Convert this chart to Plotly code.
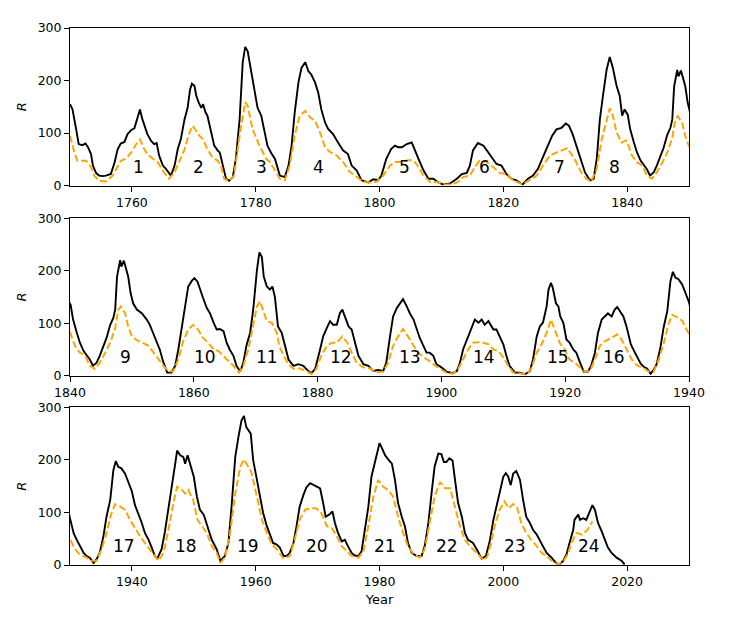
"""
Sunspot number R: revised (black) and original (orange, dashed) series, split over three panels
"""
import plotly.graph_objects as go
from plotly.subplots import make_subplots

# revised sunspot number
years_new = [
    1750.0, 1750.4, 1751.0, 1751.4, 1752.0, 1752.5, 1752.9, 1753.4, 1753.7, 1754.2,
    1754.7, 1755.3, 1755.8, 1756.6, 1757.2, 1757.7, 1758.2, 1758.8, 1759.3, 1759.9,
    1760.4, 1760.8, 1761.3, 1761.7, 1762.2, 1762.5, 1763.1, 1763.6, 1764.0, 1764.4,
    1765.0, 1765.5, 1766.3, 1766.9, 1767.4, 1767.9, 1768.5, 1769.0, 1769.4, 1769.7,
    1770.1, 1770.4, 1770.8, 1771.2, 1771.5, 1771.9, 1772.2, 1772.8, 1773.3, 1773.9,
    1774.2, 1774.7, 1775.2, 1775.7, 1776.3, 1776.8, 1777.4, 1777.9, 1778.3, 1778.7,
    1779.2, 1779.8, 1780.3, 1780.9, 1781.4, 1781.9, 1782.5, 1783.1, 1783.9, 1784.7,
    1785.3, 1785.8, 1786.3, 1786.9, 1787.4, 1788.0, 1788.5, 1789.0, 1789.6, 1790.1,
    1790.6, 1791.2, 1791.7, 1792.5, 1793.3, 1794.1, 1794.9, 1795.5, 1796.3, 1797.1,
    1798.2, 1799.0, 1799.8, 1800.3, 1801.1, 1801.9, 1802.5, 1803.0, 1803.6, 1804.4,
    1805.2, 1805.7, 1806.3, 1807.1, 1807.9, 1808.7, 1809.5, 1810.3, 1811.4, 1812.5,
    1813.3, 1814.1, 1814.6, 1815.1, 1815.9, 1816.8, 1817.5, 1818.1, 1818.9, 1819.7,
    1820.5, 1821.3, 1822.1, 1823.1, 1824.0, 1824.8, 1825.6, 1826.4, 1827.2, 1827.9,
    1828.6, 1829.4, 1830.1, 1830.6, 1831.2, 1831.8, 1832.4, 1833.2, 1834.0, 1834.6,
    1835.1, 1835.6, 1836.1, 1836.7, 1837.2, 1837.7, 1838.3, 1838.8, 1839.2, 1839.6,
    1840.1, 1840.5, 1841.1, 1841.6, 1842.2, 1842.7, 1843.2, 1843.7, 1844.3, 1844.8,
    1845.4, 1845.9, 1846.5, 1847.0, 1847.3, 1847.6, 1848.1, 1848.3, 1848.7, 1849.0,
    1849.4, 1849.8, 1850.2, 1850.8, 1851.6, 1852.4, 1852.9, 1853.5, 1854.0, 1854.5,
    1855.1, 1855.7, 1856.4, 1857.0, 1857.5, 1858.0, 1858.6, 1859.1, 1859.7, 1860.1,
    1860.6, 1861.0, 1861.5, 1862.1, 1862.6, 1863.2, 1863.7, 1864.2, 1864.8, 1865.3,
    1865.8, 1866.4, 1866.9, 1867.5, 1868.0, 1868.5, 1869.1, 1869.6, 1870.2, 1870.6,
    1871.0, 1871.3, 1871.8, 1872.3, 1872.7, 1873.1, 1873.6, 1874.2, 1874.7, 1875.3,
    1876.1, 1876.9, 1877.7, 1878.5, 1879.0, 1879.6, 1880.4, 1880.9, 1881.5, 1882.0,
    1882.5, 1883.1, 1883.6, 1884.0, 1884.4, 1885.0, 1885.5, 1886.0, 1886.6, 1887.4,
    1888.2, 1889.0, 1889.8, 1890.6, 1891.1, 1891.7, 1892.2, 1892.8, 1893.3, 1893.8,
    1894.4, 1894.9, 1895.5, 1896.0, 1896.5, 1897.1, 1897.6, 1898.1, 1898.7, 1899.2,
    1900.0, 1900.8, 1901.8, 1902.5, 1903.0, 1903.5, 1904.3, 1904.9, 1905.4, 1906.0,
    1906.5, 1907.0, 1907.6, 1908.4, 1908.9, 1909.4, 1910.0, 1910.5, 1911.0, 1911.9,
    1912.7, 1913.5, 1914.3, 1914.8, 1915.4, 1915.9, 1916.4, 1917.0, 1917.3, 1917.7,
    1918.0, 1918.5, 1918.9, 1919.2, 1919.7, 1920.2, 1920.7, 1921.3, 1921.8, 1922.4,
    1923.0, 1923.7, 1924.2, 1924.8, 1925.3, 1925.9, 1926.4, 1926.9, 1927.5, 1928.0,
    1928.4, 1928.8, 1929.4, 1929.9, 1930.3, 1930.6, 1931.1, 1931.6, 1932.2, 1932.7,
    1933.2, 1933.8, 1934.3, 1934.8, 1935.4, 1935.9, 1936.5, 1937.0, 1937.4, 1937.8,
    1938.3, 1938.9, 1939.4, 1940.0, 1940.5, 1941.0, 1941.6, 1942.1, 1942.7, 1943.2,
    1943.7, 1944.1, 1944.8, 1945.3, 1945.9, 1946.4, 1947.0, 1947.3, 1947.8, 1948.3,
    1948.6, 1949.0, 1949.5, 1950.0, 1950.5, 1951.0, 1951.6, 1952.2, 1952.9, 1953.7,
    1954.3, 1955.0, 1955.6, 1956.1, 1956.7, 1957.2, 1957.7, 1958.1, 1958.5, 1959.2,
    1959.6, 1960.2, 1960.7, 1961.2, 1961.8, 1962.3, 1962.8, 1963.4, 1963.9, 1964.5,
    1965.0, 1965.5, 1966.1, 1966.6, 1967.1, 1967.7, 1968.2, 1968.8, 1969.3, 1969.8,
    1970.4, 1970.9, 1971.3, 1971.9, 1972.4, 1972.8, 1973.3, 1973.9, 1974.4, 1974.9,
    1975.5, 1976.0, 1976.6, 1977.1, 1977.6, 1978.2, 1978.7, 1979.3, 1979.5, 1980.0,
    1980.3, 1980.9, 1981.4, 1982.0, 1982.5, 1983.0, 1983.6, 1984.1, 1984.6, 1985.2,
    1986.0, 1986.8, 1987.3, 1987.9, 1988.4, 1988.9, 1989.5, 1990.0, 1990.4, 1990.8,
    1991.3, 1991.8, 1992.2, 1992.7, 1993.3, 1993.8, 1994.3, 1995.1, 1995.7, 1996.5,
    1997.2, 1997.8, 1998.4, 1998.9, 1999.4, 2000.0, 2000.4, 2000.8, 2001.2, 2001.6,
    2002.1, 2002.7, 2003.2, 2003.7, 2004.3, 2004.8, 2005.4, 2005.9, 2006.4, 2007.0,
    2007.8, 2008.5, 2009.1, 2009.7, 2010.2, 2010.7, 2011.3, 2011.5, 2012.1, 2012.4,
    2012.9, 2013.4, 2014.0, 2014.4, 2014.8, 2015.3, 2015.9, 2016.4, 2016.9, 2017.5,
    2018.3, 2019.1, 2019.6,
]
r_new = [
    155, 145, 107, 79, 77, 80, 73, 60, 38, 24,
    19, 18, 19, 22, 44, 69, 80, 83, 98, 106,
    109, 126, 145, 126, 107, 98, 85, 79, 81, 57,
    38, 32, 19, 38, 69, 88, 126, 148, 183, 194,
    190, 171, 158, 148, 155, 139, 133, 104, 76, 66,
    63, 38, 13, 9, 16, 51, 126, 234, 264, 256,
    221, 183, 148, 133, 107, 76, 62, 51, 19, 16,
    38, 76, 139, 196, 224, 235, 218, 211, 196, 177,
    145, 120, 108, 98, 82, 67, 60, 38, 29, 10,
    6, 12, 10, 19, 51, 70, 76, 73, 73, 79,
    82, 67, 51, 29, 13, 13, 6, 2, 4, 13,
    22, 24, 38, 67, 81, 76, 64, 54, 41, 38,
    22, 13, 10, 2, 13, 19, 32, 54, 76, 95,
    107, 110, 118, 114, 98, 76, 51, 25, 10, 13,
    51, 126, 171, 221, 245, 224, 190, 171, 133, 145,
    135, 107, 82, 63, 47, 38, 31, 19, 25, 38,
    57, 72, 97, 110, 126, 189, 220, 208, 219, 208,
    189, 157, 138, 126, 119, 107, 97, 79, 63, 50,
    25, 6, 6, 19, 50, 88, 132, 170, 181, 186,
    179, 164, 148, 129, 119, 101, 88, 89, 85, 63,
    50, 38, 19, 8, 25, 57, 82, 126, 201, 235,
    226, 189, 170, 164, 170, 150, 94, 82, 57, 31,
    19, 22, 19, 9, 5, 13, 50, 75, 91, 104,
    97, 97, 119, 126, 113, 94, 88, 63, 38, 22,
    19, 9, 11, 9, 25, 75, 113, 129, 138, 146,
    132, 119, 107, 88, 72, 57, 44, 44, 38, 22,
    16, 8, 5, 9, 25, 50, 75, 91, 107, 101,
    107, 97, 104, 88, 88, 75, 60, 38, 19, 6,
    6, 3, 9, 31, 75, 94, 101, 132, 164, 177,
    167, 138, 132, 113, 101, 69, 63, 50, 44, 25,
    8, 8, 19, 44, 82, 107, 113, 119, 113, 126,
    131, 123, 113, 94, 75, 60, 48, 36, 23, 17,
    14, 4, 11, 23, 55, 92, 124, 180, 198, 187,
    184, 174, 158, 140, 114, 99, 80, 61, 48, 33,
    17, 12, 30, 61, 105, 149, 193, 218, 209, 206,
    193, 209, 190, 168, 130, 105, 96, 74, 48, 30,
    8, 17, 42, 111, 206, 243, 275, 284, 262, 250,
    199, 162, 130, 99, 74, 56, 42, 39, 33, 17,
    17, 23, 42, 74, 111, 133, 148, 156, 153, 149,
    146, 118, 92, 96, 102, 80, 61, 45, 48, 36,
    23, 18, 17, 26, 61, 111, 168, 199, 212, 232,
    225, 209, 201, 193, 162, 118, 92, 74, 42, 23,
    17, 17, 36, 80, 136, 187, 212, 211, 196, 196,
    203, 199, 162, 118, 92, 61, 48, 42, 30, 12,
    17, 45, 86, 111, 136, 168, 175, 168, 152, 174,
    179, 162, 124, 92, 80, 67, 58, 48, 36, 23,
    14, 4, 1, 8, 20, 42, 67, 86, 96, 86,
    89, 86, 105, 114, 105, 80, 64, 48, 33, 23,
    14, 8, 1,
]

# original sunspot number (ends 2015)
years_old = [
    1750.0, 1750.7, 1751.2, 1752.6, 1753.4, 1753.9, 1754.7, 1755.8, 1756.9, 1757.7,
    1758.2, 1759.0, 1759.9, 1760.7, 1761.3, 1762.0, 1762.5, 1763.4, 1764.2, 1765.0,
    1766.0, 1766.9, 1767.7, 1768.5, 1769.3, 1769.8, 1770.4, 1770.9, 1771.5, 1772.2,
    1773.0, 1773.9, 1774.4, 1774.9, 1775.7, 1776.5, 1777.4, 1778.3, 1778.7, 1779.5,
    1780.6, 1781.7, 1782.3, 1783.1, 1783.9, 1784.7, 1785.5, 1786.3, 1787.1, 1788.0,
    1788.8, 1789.6, 1790.4, 1791.2, 1792.0, 1793.1, 1794.1, 1795.2, 1796.3, 1797.4,
    1798.5, 1799.5, 1800.6, 1801.7, 1802.5, 1803.6, 1804.6, 1805.5, 1806.3, 1807.1,
    1808.2, 1809.2, 1810.3, 1811.6, 1812.7, 1813.5, 1814.6, 1815.4, 1816.2, 1817.3,
    1818.4, 1819.4, 1820.5, 1821.6, 1823.1, 1824.3, 1825.4, 1826.4, 1827.5, 1828.6,
    1829.7, 1830.3, 1831.0, 1831.8, 1832.6, 1833.4, 1834.2, 1835.1, 1835.9, 1836.7,
    1837.2, 1837.7, 1838.3, 1839.1, 1839.9, 1840.8, 1841.6, 1842.4, 1843.2, 1844.0,
    1844.8, 1845.7, 1846.5, 1847.3, 1847.8, 1848.2, 1848.9, 1849.4, 1850.0, 1850.8,
    1851.8, 1852.7, 1853.5, 1854.3, 1855.1, 1855.9, 1856.7, 1857.5, 1858.3, 1859.1,
    1859.9, 1860.7, 1861.5, 1862.3, 1863.2, 1864.0, 1864.8, 1865.6, 1866.4, 1867.3,
    1868.0, 1868.8, 1869.6, 1870.2, 1870.7, 1871.2, 1871.8, 1872.6, 1873.4, 1873.8,
    1874.5, 1875.3, 1876.1, 1877.1, 1878.2, 1879.0, 1879.8, 1880.6, 1881.5, 1882.3,
    1883.1, 1884.0, 1884.8, 1885.5, 1886.3, 1887.4, 1888.5, 1889.5, 1890.6, 1891.4,
    1892.2, 1893.0, 1893.8, 1894.6, 1895.5, 1896.3, 1897.1, 1898.1, 1899.0, 1899.8,
    1900.8, 1901.9, 1902.7, 1903.5, 1904.3, 1905.1, 1906.0, 1906.8, 1907.6, 1908.4,
    1909.2, 1910.0, 1910.8, 1911.6, 1912.7, 1913.7, 1914.5, 1915.4, 1916.2, 1917.0,
    1917.7, 1918.3, 1919.1, 1919.9, 1920.7, 1921.5, 1922.4, 1923.2, 1924.0, 1924.8,
    1925.6, 1926.4, 1927.5, 1928.4, 1929.1, 1929.9, 1930.8, 1931.6, 1932.7, 1933.5,
    1934.3, 1935.1, 1935.9, 1936.7, 1937.3, 1938.1, 1938.9, 1939.7, 1940.5, 1941.3,
    1942.1, 1942.9, 1943.7, 1944.3, 1945.1, 1945.9, 1946.7, 1947.3, 1948.0, 1948.6,
    1949.1, 1949.9, 1950.6, 1951.3, 1952.1, 1952.9, 1953.7, 1954.3, 1955.0, 1955.8,
    1956.7, 1957.5, 1958.1, 1958.8, 1959.3, 1960.2, 1961.0, 1961.8, 1962.6, 1963.4,
    1964.5, 1965.5, 1966.3, 1967.1, 1968.0, 1968.8, 1969.8, 1970.6, 1971.5, 1972.3,
    1973.1, 1973.9, 1974.7, 1975.5, 1976.6, 1977.4, 1978.2, 1979.0, 1979.8, 1980.6,
    1981.4, 1982.2, 1983.0, 1983.8, 1984.6, 1985.5, 1986.5, 1987.3, 1988.1, 1988.9,
    1989.8, 1990.6, 1991.4, 1992.2, 1993.0, 1993.8, 1994.6, 1995.7, 1996.8, 1997.4,
    1997.9, 1998.6, 1999.4, 2000.2, 2000.9, 2001.6, 2002.2, 2002.9, 2003.7, 2004.5,
    2005.4, 2006.2, 2007.0, 2007.8, 2008.9, 2009.7, 2010.5, 2011.0, 2011.8, 2012.7,
    2013.6, 2014.4,
]
r_old = [
    95, 63, 47, 47, 35, 19, 9, 8, 19, 38,
    47, 51, 63, 79, 88, 69, 60, 51, 44, 28,
    13, 25, 47, 69, 101, 114, 104, 95, 88, 69,
    54, 47, 38, 13, 8, 19, 95, 159, 152, 107,
    76, 51, 45, 29, 13, 10, 38, 95, 133, 142,
    130, 123, 101, 73, 64, 57, 45, 26, 16, 7,
    6, 7, 19, 38, 45, 45, 48, 48, 35, 19,
    7, 7, 2, 2, 7, 16, 19, 35, 48, 45,
    35, 24, 22, 10, 2, 10, 19, 38, 57, 63,
    68, 71, 60, 44, 25, 13, 8, 32, 88, 126,
    147, 133, 101, 82, 86, 57, 44, 39, 19, 13,
    25, 44, 63, 91, 126, 132, 119, 94, 75, 68,
    63, 57, 44, 31, 19, 8, 9, 31, 66, 88,
    97, 88, 72, 63, 50, 47, 38, 28, 19, 6,
    19, 50, 94, 132, 142, 126, 104, 101, 82, 57,
    38, 22, 13, 14, 9, 3, 13, 38, 57, 63,
    63, 75, 63, 44, 25, 16, 14, 6, 8, 25,
    57, 75, 89, 75, 57, 44, 35, 28, 19, 13,
    6, 4, 13, 31, 50, 63, 64, 63, 60, 50,
    47, 35, 19, 6, 5, 3, 13, 44, 60, 82,
    107, 88, 63, 50, 31, 25, 16, 8, 9, 31,
    57, 66, 72, 79, 69, 52, 30, 20, 14, 8,
    8, 30, 61, 99, 116, 111, 105, 86, 70, 55,
    42, 30, 17, 8, 23, 67, 118, 149, 144, 136,
    143, 124, 86, 74, 61, 36, 23, 4, 14, 55,
    136, 187, 201, 187, 177, 130, 86, 61, 39, 30,
    12, 17, 48, 86, 105, 108, 108, 99, 74, 70,
    55, 36, 26, 17, 14, 26, 74, 130, 162, 149,
    143, 130, 92, 61, 36, 20, 14, 30, 80, 130,
    158, 146, 146, 111, 74, 48, 36, 23, 9, 16,
    36, 74, 105, 121, 108, 116, 111, 80, 61, 48,
    36, 23, 17, 8, 1, 6, 23, 42, 61, 58,
    67, 83,
]

# cycle numbers and where they are written
cycle_labels = [str(n) for n in range(1, 25)]
cycle_years = [1761.0, 1770.8, 1780.9, 1790.1, 1804.0, 1816.9, 1829.0, 1838.0,
               1848.9, 1861.8, 1871.8, 1883.8, 1894.9, 1906.9, 1918.8, 1927.9,
               1938.7, 1948.7, 1958.8, 1969.9, 1980.9, 1990.9, 2001.9, 2013.8]
panel_ranges = [[1750, 1850], [1840, 1940], [1930, 2030]]
panel_ticks = [[1760, 1780, 1800, 1820, 1840],
               [1840, 1860, 1880, 1900, 1920, 1940],
               [1940, 1960, 1980, 2000, 2020]]

FONT = "DejaVu Sans"

fig = make_subplots(rows=3, cols=1)
domains = [[0.7066, 1.0], [0.3524, 0.6458], [0.0, 0.2934]]

for i in range(3):
    row = i + 1
    fig.add_trace(go.Scatter(x=years_new, y=r_new, mode="lines",
                             line=dict(color="black", width=1.9),
                             showlegend=False, hoverinfo="skip"), row=row, col=1)
    fig.add_trace(go.Scatter(x=years_old, y=r_old, mode="lines",
                             line=dict(color="#FFA500", width=2, dash="7px,3px"),
                             showlegend=False, hoverinfo="skip"), row=row, col=1)
    lo, hi = panel_ranges[i]
    for lab, yr in zip(cycle_labels, cycle_years):
        if lo < yr < hi and not (i == 0 and yr > 1840) and not (i == 1 and yr > 1930):
            fig.add_annotation(x=yr, y=36, text=lab, showarrow=False,
                               xref=f"x{row if row > 1 else ''}",
                               yref=f"y{row if row > 1 else ''}",
                               font=dict(family=FONT, size=17, color="black"))
    fig.update_xaxes(range=panel_ranges[i], tickvals=panel_ticks[i], domain=[0, 1],
                     showline=True, linecolor="black", linewidth=1, mirror=True,
                     ticks="outside", ticklen=5, tickcolor="black", showgrid=False,
                     zeroline=False, tickfont=dict(family=FONT, size=12.5, color="black"),
                     row=row, col=1)
    fig.update_yaxes(range=[0, 300], tickvals=[0, 100, 200, 300], domain=domains[i],
                     showline=True, linecolor="black", linewidth=1, mirror=True,
                     ticks="outside", ticklen=5, tickcolor="black", showgrid=False,
                     zeroline=False, tickfont=dict(family=FONT, size=12.5, color="black"),
                     title=dict(text="<i>R</i>", standoff=8,
                                font=dict(family=FONT, size=13, color="black")),
                     row=row, col=1)

fig.update_xaxes(title=dict(text="Year", standoff=6,
                            font=dict(family=FONT, size=13, color="black")),
                 row=3, col=1)

# the page body adds 8px on the left and top, so margins make up for it
fig.update_layout(width=741, height=620,
                  margin=dict(l=62, r=60, t=15, b=63),
                  plot_bgcolor="white", paper_bgcolor="white",
                  font=dict(family=FONT, color="black"))

fig.write_html("out.html")
